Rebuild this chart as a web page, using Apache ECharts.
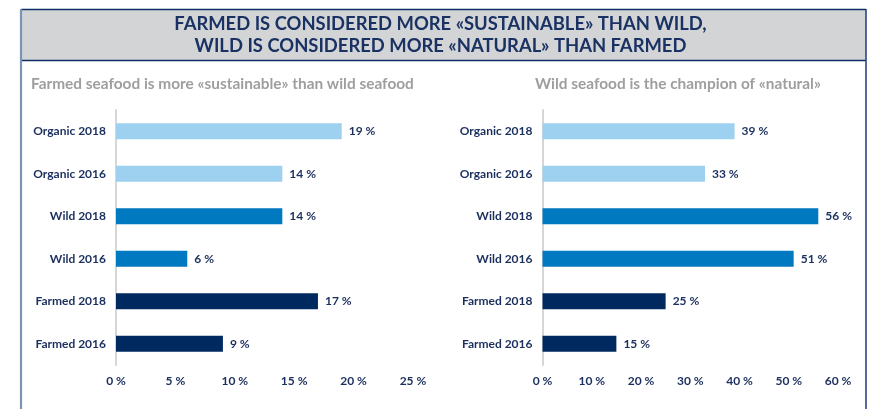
<!DOCTYPE html>
<html>
<head>
<meta charset="utf-8">
<script src="https://cdn.jsdelivr.net/npm/echarts@6/dist/echarts.min.js"></script>
<style>
  html, body { margin: 0; padding: 0; background: #ffffff; }
  #chart { width: 881px; height: 409px; }
</style>
</head>
<body>
<div id="chart"></div>
<script>
// Survey categories, top to bottom
const categories = ['Organic 2018', 'Organic 2016', 'Wild 2018', 'Wild 2016', 'Farmed 2018', 'Farmed 2016'];

// Share of respondents (%) – "sustainable"
const sustainableValues = [19, 14, 14, 6, 17, 9];
// Share of respondents (%) – "natural"
const naturalValues = [39, 33, 56, 51, 25, 15];

// Axis ranges / ticks
const sustainableTicks = { min: 0, max: 25, interval: 5 };
const naturalTicks = { min: 0, max: 60, interval: 10 };

const headerLines = [
  'FARMED IS CONSIDERED MORE «SUSTAINABLE» THAN WILD,',
  'WILD IS CONSIDERED MORE «NATURAL» THAN FARMED'
];
const leftTitle = 'Farmed seafood is more «sustainable» than wild seafood';
const rightTitle = 'Wild seafood is the champion of «natural»';

const NAVY = '#1b2f5e';
const barColors = ['#9dd1ef', '#9dd1ef', '#0079c1', '#0079c1', '#002a5f', '#002a5f'];
const FONT = 'Lato';

function catAxis(gridIndex) {
  return {
    type: 'category',
    gridIndex: gridIndex,
    data: categories,
    inverse: true,
    axisLine: { show: true, lineStyle: { color: '#d6d6d6', width: 2 } },
    axisTick: { show: false },
    axisLabel: { color: NAVY, fontFamily: FONT, fontWeight: 'bold', fontSize: 12, margin: 10 }
  };
}

function valAxis(gridIndex, ticks) {
  return {
    type: 'value',
    gridIndex: gridIndex,
    min: ticks.min,
    max: ticks.max,
    interval: ticks.interval,
    axisLine: { show: false },
    axisTick: { show: false },
    splitLine: { show: false },
    axisLabel: {
      color: NAVY, fontFamily: FONT, fontWeight: 'bold', fontSize: 12, margin: 10,
      formatter: v => v + ' %'
    }
  };
}

function barSeries(idx, values) {
  return {
    type: 'bar',
    xAxisIndex: idx,
    yAxisIndex: idx,
    barWidth: 16,
    data: values.map((v, i) => ({ value: v, itemStyle: { color: barColors[i] } })),
    label: {
      show: true,
      position: 'right',
      distance: 7,
      color: NAVY,
      fontFamily: FONT,
      fontWeight: 'bold',
      fontSize: 12,
      formatter: p => p.value + ' %'
    },
    silent: true
  };
}

const chart = echarts.init(document.getElementById('chart'), null, { renderer: 'canvas' });

chart.setOption({
  animation: false,
  backgroundColor: '#ffffff',
  grid: [
    { left: 116, right: 468, top: 110, bottom: 44 },
    { left: 542.5, right: 43, top: 110, bottom: 44 }
  ],
  xAxis: [valAxis(0, sustainableTicks), valAxis(1, naturalTicks)],
  yAxis: [catAxis(0), catAxis(1)],
  series: [barSeries(0, sustainableValues), barSeries(1, naturalValues)],
  graphic: [
    // header band
    { type: 'rect', z: 0, shape: { x: 21, y: 9.5, width: 845, height: 51 },
      style: { fill: '#d3d4d6', stroke: null } },
    { type: 'line', z: 1, shape: { x1: 21, y1: 9.5, x2: 866, y2: 9.5 },
      style: { stroke: '#0f2e66', lineWidth: 1.5 } },
    { type: 'line', z: 1, shape: { x1: 21, y1: 60.5, x2: 866, y2: 60.5 },
      style: { stroke: '#0f2e66', lineWidth: 1.5 } },
    // frame sides
    { type: 'line', z: 2, shape: { x1: 21, y1: 9, x2: 21, y2: 409 },
      style: { stroke: '#7b93b9', lineWidth: 2.2 } },
    { type: 'line', z: 2, shape: { x1: 866, y1: 9, x2: 866, y2: 409 },
      style: { stroke: '#1d3d7a', lineWidth: 1.5 } },
    // header text
    { type: 'text', z: 3, left: 'center', top: 15,
      style: { text: headerLines[0], fill: '#1a3263', font: 'bold 18.4px ' + FONT } },
    { type: 'text', z: 3, left: 'center', top: 37.5,
      style: { text: headerLines[1], fill: '#1a3263', font: 'bold 18.4px ' + FONT } },
    // panel subtitles
    { type: 'text', z: 3, left: 31, top: 76.5,
      style: { text: leftTitle, fill: '#9e9e9e', font: 'bold 15.4px ' + FONT } },
    { type: 'text', z: 3, left: 535, top: 76.5,
      style: { text: rightTitle, fill: '#9e9e9e', font: 'bold 15.4px ' + FONT } }
  ]
});
</script>
</body>
</html>
